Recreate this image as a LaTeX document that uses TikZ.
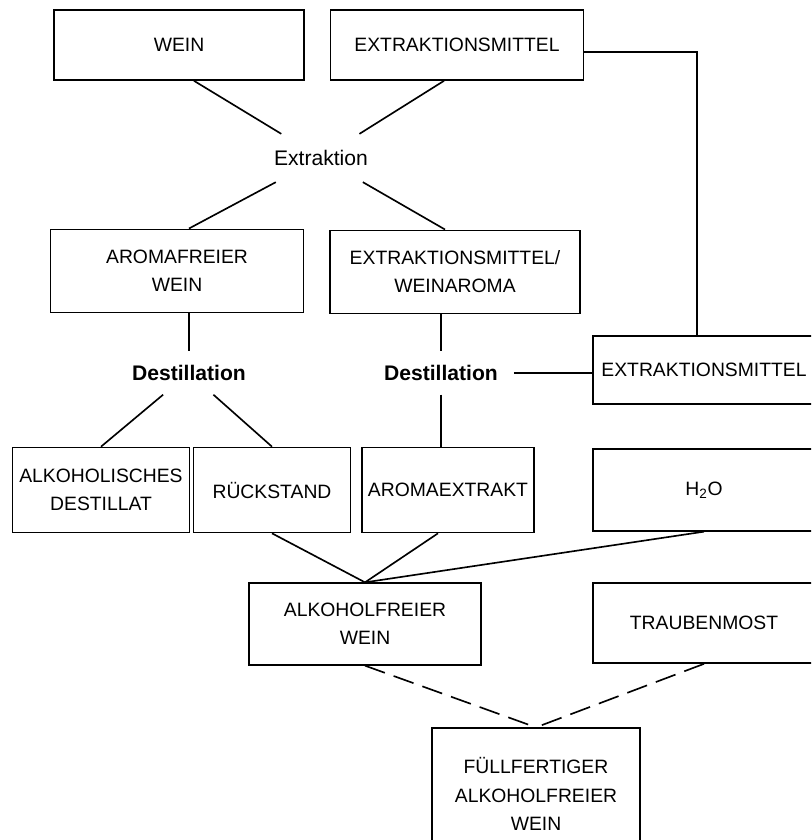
\documentclass[tikz,border=0pt]{standalone}
\usepackage{fontspec}
\setmainfont{Liberation Sans}
\usetikzlibrary{calc}

\begin{document}
\begin{tikzpicture}[x=0.03cm, y=-0.03cm, line width=1.4pt]
        \tikzset{
            box/.style={
                    draw,
                    rectangle,
                    align=center,
                    inner sep=2pt,
                    font=\fontsize{16.5}{24}\selectfont
                },
            vorgang/.style={
                    inner xsep=13pt,
                    font=\fontsize{18}{22}\selectfont\bfseries
                },
            gestrichelt/.style={dash pattern=on 18pt off 8pt}
        }
        \useasboundingbox (0,0) rectangle (811,840);
        \clip (0,0) rectangle (811,840);
        % obere Reihe
        \node[box, minimum width=7.5cm, minimum height=2.1cm] (wein) at (179,45) {WEIN};
        \node[box, minimum width=7.6cm, minimum height=2.1cm] (extr) at (457,45) {EXTRAKTIONSMITTEL};
        \node[vorgang, minimum height=1.4cm, font=\fontsize{18}{22}\selectfont] (extraktion) at (321,158) {Extraktion};
        \node[box, minimum width=7.6cm, minimum height=2.5cm] (aromafrei) at (177,271) {AROMAFREIER\\WEIN};
        \node[box, minimum width=7.5cm, minimum height=2.5cm] (extraroma) at (455,272) {EXTRAKTIONSMITTEL/\\WEINAROMA};
        \node[vorgang, minimum height=1.25cm] (dest1) at (189,373) {Destillation};
        \node[vorgang, minimum height=1.25cm] (dest2) at (441,373) {Destillation};
        \node[box, minimum width=6.65cm, minimum height=2.05cm] (extrmittel) at (704,370) {EXTRAKTIONSMITTEL};
        % untere Reihe
        \node[box, minimum width=5.3cm, minimum height=2.55cm] (alkdest) at (101,490) {ALKOHOLISCHES\\DESTILLAT};
        \node[box, minimum width=4.7cm, minimum height=2.55cm] (rueck) at (272,490) {RÜCKSTAND};
        \node[box, minimum width=5.15cm, minimum height=2.55cm] (aromaex) at (448,490) {AROMAEXTRAKT};
        \node[box, minimum width=6.65cm, minimum height=2.45cm] (wasser) at (704,490) {H\textsubscript{2}O};
        \node[box, minimum width=6.95cm, minimum height=2.45cm] (alkfrei) at (365,624) {ALKOHOLFREIER\\WEIN};
        \node[box, minimum width=6.65cm, minimum height=2.4cm] (most) at (704,623) {TRAUBENMOST};
        \node[box, minimum width=6.25cm, minimum height=3.95cm] (fuell) at (536,794) {FÜLLFERTIGER\\ALKOHOLFREIER\\WEIN};
        % Verbindungen
        \draw ($(wein.south)+(15,0)$) -- (extraktion);
        \draw ($(extr.south)+(-13,0)$) -- (extraktion);
        \draw (extraktion) -- ($(aromafrei.north)+(12,0)$);
        \draw (extraktion) -- ($(extraroma.north)+(-10,0)$);
        \draw (dest1 |- aromafrei.south) -- (dest1);
        \draw (dest1) -- (alkdest.north);
        \draw (dest1) -- (rueck.north);
        \draw (dest2 |- extraroma.south) -- (dest2);
        \draw (dest2) -- (dest2 |- aromaex.north);
        \draw (dest2.east) -- (dest2.east -| extrmittel.west);
        \draw ($(extr.east)+(0,7)$) -| ($(extrmittel.north)+(-7,0)$);
        \draw (rueck.south) -- (alkfrei.north);
        \draw ($(aromaex.south)+(-10,0)$) -- (alkfrei.north);
        \draw (wasser.south) -- (alkfrei.north);
        \draw[gestrichelt] (alkfrei.south) -- (fuell.north);
        \draw[gestrichelt] (most.south) -- (fuell.north);
    \end{tikzpicture}
\end{document}
